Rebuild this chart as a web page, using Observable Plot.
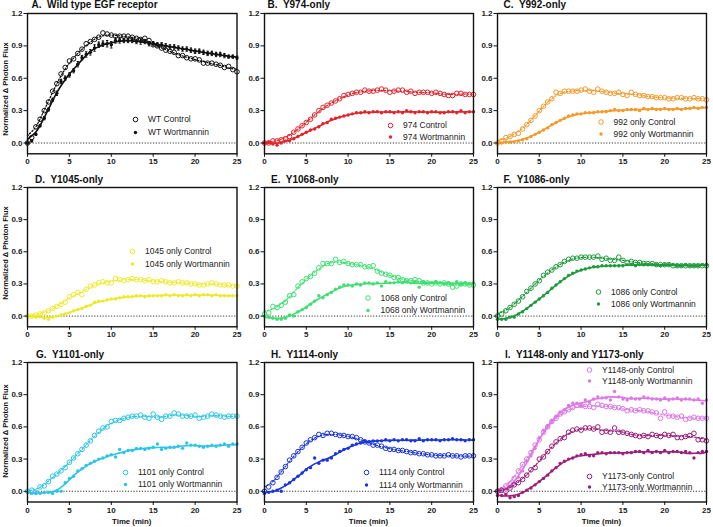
<!DOCTYPE html>
<html><head><meta charset="utf-8">
<script src="https://cdn.jsdelivr.net/npm/d3@7"></script>
<script src="https://cdn.jsdelivr.net/npm/@observablehq/plot@0.6"></script>
<style>
body{margin:0;background:#fff;}
#wrap{position:relative;width:713px;height:527px;overflow:hidden;font-family:Arial,"Liberation Sans",sans-serif;color:#111;}
#wrap svg{position:absolute;overflow:visible;}
.title{position:absolute;font-weight:bold;font-size:10px;white-space:pre;transform:translateY(-50%);line-height:1;}
.ylab{position:absolute;font-weight:bold;font-size:7.5px;white-space:nowrap;transform:translate(-50%,-50%) rotate(-90deg);line-height:1;}
.xlab{position:absolute;font-weight:bold;font-size:7.8px;white-space:nowrap;transform:translate(-50%,-50%);line-height:1;}
</style></head>
<body><div id="wrap"></div>
<script>
// ---- data ----
const T = [0,0.5,1,1.5,2,2.5,3,3.5,4,4.5,5,5.5,6,6.5,7,7.5,8,8.5,9,9.5,10,10.5,11,11.5,12,12.5,13,13.5,14,14.5,15,15.5,16,16.5,17,17.5,18,18.5,19,19.5,20,20.5,21,21.5,22,22.5,23,23.5,24,24.5,25];
const xTicks = [0,5,10,15,20,25];
const yTicks = [0,0.3,0.6,0.9,1.2];

const wtControl = [0.00,0.05,0.15,0.22,0.30,0.38,0.48,0.55,0.64,0.70,0.76,0.78,0.83,0.87,0.92,0.94,0.96,0.98,1.02,1.01,1.00,0.99,0.99,0.99,0.99,0.98,0.97,0.96,0.97,0.95,0.91,0.90,0.88,0.86,0.85,0.84,0.81,0.81,0.79,0.78,0.78,0.77,0.74,0.74,0.74,0.73,0.72,0.70,0.71,0.68,0.66];
const wtWortmannin = [0.00,0.02,0.08,0.16,0.23,0.31,0.40,0.46,0.57,0.60,0.63,0.67,0.73,0.79,0.82,0.84,0.88,0.91,0.92,0.92,0.91,0.95,0.95,0.95,0.95,0.95,0.94,0.94,0.94,0.92,0.92,0.91,0.91,0.90,0.89,0.89,0.88,0.87,0.87,0.86,0.85,0.85,0.84,0.83,0.83,0.82,0.82,0.81,0.80,0.80,0.79];
const wtWortmanninErr = [0,0.01,0.01,0.01,0.015,0.015,0.015,0.02,0.02,0.02,0.02,0.02,0.025,0.02,0.025,0.025,0.03,0.025,0.025,0.03,0.03,0.025,0.025,0.02,0.02,0.02,0.02,0.025,0.02,0.02,0.02,0.02,0.02,0.02,0.02,0.02,0.02,0.02,0.02,0.02,0.02,0.02,0.02,0.02,0.02,0.02,0.02,0.02,0.015,0.015,0.015];

const y974Control = [0.00,0.00,0.02,0.02,0.03,0.04,0.06,0.10,0.13,0.16,0.19,0.22,0.26,0.30,0.33,0.35,0.37,0.39,0.41,0.44,0.45,0.46,0.47,0.47,0.49,0.48,0.48,0.49,0.50,0.49,0.47,0.48,0.49,0.49,0.47,0.48,0.46,0.47,0.47,0.47,0.46,0.47,0.46,0.45,0.44,0.44,0.46,0.46,0.45,0.45,0.45];
const y974Wortmannin = [0.00,0.01,-0.01,-0.02,0.00,0.02,0.02,0.04,0.06,0.08,0.10,0.12,0.13,0.15,0.18,0.19,0.22,0.23,0.24,0.25,0.26,0.27,0.28,0.28,0.29,0.28,0.29,0.29,0.28,0.29,0.29,0.28,0.29,0.28,0.30,0.29,0.28,0.29,0.29,0.28,0.29,0.29,0.28,0.28,0.29,0.29,0.28,0.30,0.28,0.29,0.29];

const y992Control = [0.00,0.02,0.05,0.06,0.08,0.09,0.13,0.17,0.21,0.25,0.30,0.34,0.38,0.41,0.47,0.46,0.48,0.48,0.48,0.48,0.49,0.50,0.48,0.47,0.50,0.48,0.47,0.46,0.46,0.47,0.45,0.44,0.47,0.45,0.44,0.44,0.43,0.43,0.42,0.42,0.42,0.41,0.41,0.42,0.42,0.41,0.41,0.42,0.41,0.41,0.40];
const y992Wortmannin = [0.00,0.00,0.01,0.01,0.01,0.02,0.03,0.04,0.06,0.08,0.10,0.12,0.14,0.17,0.19,0.21,0.23,0.25,0.26,0.27,0.27,0.28,0.28,0.28,0.29,0.29,0.29,0.30,0.31,0.30,0.30,0.31,0.31,0.31,0.30,0.32,0.31,0.32,0.31,0.31,0.32,0.31,0.31,0.32,0.31,0.32,0.32,0.33,0.32,0.33,0.33];

const y1045Control = [0.00,0.00,0.01,0.02,0.03,0.05,0.07,0.09,0.11,0.13,0.18,0.20,0.22,0.20,0.25,0.28,0.29,0.31,0.32,0.31,0.31,0.35,0.34,0.33,0.34,0.35,0.34,0.34,0.33,0.34,0.32,0.32,0.33,0.32,0.31,0.31,0.32,0.31,0.31,0.30,0.30,0.29,0.29,0.30,0.31,0.30,0.29,0.29,0.29,0.28,0.28];
const y1045Wortmannin = [0.00,0.00,-0.01,0.00,-0.02,-0.03,-0.01,0.00,0.01,0.02,0.03,0.05,0.06,0.07,0.09,0.10,0.13,0.14,0.14,0.15,0.16,0.16,0.17,0.18,0.18,0.18,0.19,0.19,0.18,0.19,0.19,0.19,0.19,0.20,0.19,0.20,0.19,0.19,0.20,0.19,0.20,0.19,0.20,0.20,0.19,0.20,0.19,0.19,0.19,0.19,0.19];

const y1068Control = [0.02,0.03,0.09,0.08,0.10,0.13,0.19,0.20,0.28,0.32,0.35,0.37,0.40,0.45,0.49,0.49,0.49,0.53,0.50,0.51,0.49,0.48,0.48,0.48,0.46,0.46,0.47,0.42,0.40,0.39,0.38,0.36,0.36,0.34,0.33,0.33,0.34,0.33,0.31,0.31,0.30,0.31,0.30,0.31,0.30,0.27,0.28,0.30,0.30,0.29,0.29];
const y1068Wortmannin = [0.00,-0.01,-0.02,-0.03,-0.03,-0.02,0.01,0.00,0.04,0.06,0.08,0.11,0.14,0.19,0.17,0.20,0.22,0.25,0.27,0.29,0.29,0.28,0.30,0.29,0.31,0.31,0.30,0.31,0.28,0.32,0.31,0.31,0.32,0.31,0.32,0.31,0.32,0.27,0.32,0.31,0.31,0.32,0.31,0.30,0.31,0.30,0.32,0.30,0.31,0.30,0.31];

const y1086Control = [0.00,0.02,0.05,0.08,0.11,0.14,0.18,0.23,0.26,0.30,0.33,0.38,0.41,0.43,0.46,0.48,0.51,0.53,0.54,0.54,0.55,0.55,0.55,0.55,0.56,0.53,0.54,0.52,0.52,0.55,0.52,0.50,0.51,0.50,0.50,0.49,0.49,0.49,0.48,0.48,0.48,0.48,0.47,0.47,0.47,0.47,0.47,0.47,0.47,0.47,0.47];
const y1086Wortmannin = [-0.03,-0.03,-0.03,-0.01,-0.01,0.02,0.04,0.07,0.10,0.13,0.16,0.19,0.22,0.26,0.29,0.32,0.35,0.38,0.40,0.42,0.43,0.44,0.45,0.46,0.46,0.47,0.47,0.47,0.47,0.47,0.47,0.48,0.48,0.47,0.48,0.48,0.48,0.48,0.48,0.47,0.48,0.48,0.48,0.47,0.47,0.48,0.47,0.47,0.47,0.48,0.48];

const y1101Control = [0.00,0.01,-0.01,0.04,0.05,0.09,0.14,0.16,0.19,0.22,0.27,0.31,0.35,0.39,0.43,0.47,0.52,0.56,0.59,0.60,0.65,0.66,0.66,0.68,0.69,0.70,0.70,0.71,0.69,0.68,0.72,0.69,0.67,0.70,0.70,0.73,0.72,0.70,0.70,0.70,0.71,0.68,0.69,0.70,0.72,0.71,0.70,0.69,0.70,0.70,0.70];
const y1101Wortmannin = [-0.01,-0.02,-0.02,-0.02,-0.01,-0.01,-0.02,0.00,0.00,0.08,0.12,0.14,0.19,0.21,0.24,0.26,0.28,0.30,0.31,0.33,0.34,0.32,0.39,0.36,0.38,0.38,0.40,0.40,0.39,0.40,0.41,0.44,0.39,0.40,0.41,0.41,0.42,0.40,0.45,0.43,0.43,0.42,0.41,0.42,0.43,0.42,0.43,0.44,0.42,0.44,0.44];

const y1114Control = [0.00,0.04,0.08,0.13,0.18,0.23,0.29,0.33,0.37,0.41,0.45,0.48,0.50,0.53,0.52,0.54,0.54,0.53,0.52,0.52,0.51,0.51,0.50,0.48,0.46,0.45,0.43,0.43,0.42,0.40,0.39,0.39,0.38,0.38,0.37,0.36,0.36,0.35,0.35,0.34,0.34,0.33,0.33,0.33,0.34,0.33,0.33,0.32,0.33,0.33,0.33];
const y1114Wortmannin = [-0.02,-0.01,0.00,0.01,0.00,0.06,0.08,0.11,0.14,0.17,0.20,0.22,0.31,0.26,0.29,0.29,0.31,0.35,0.37,0.39,0.40,0.43,0.44,0.45,0.47,0.46,0.47,0.47,0.47,0.48,0.47,0.48,0.47,0.48,0.48,0.47,0.47,0.49,0.47,0.48,0.48,0.48,0.47,0.48,0.48,0.49,0.48,0.48,0.47,0.48,0.48];

const y1148Control = [0.00,0.01,0.05,0.07,0.12,0.19,0.25,0.30,0.36,0.43,0.48,0.55,0.60,0.65,0.68,0.72,0.74,0.76,0.78,0.80,0.80,0.79,0.79,0.78,0.81,0.80,0.79,0.79,0.78,0.78,0.77,0.75,0.76,0.75,0.76,0.75,0.75,0.74,0.73,0.68,0.74,0.70,0.70,0.69,0.70,0.67,0.68,0.69,0.68,0.68,0.68];
const y1148Wortmannin = [0.00,0.00,0.02,0.04,0.08,0.13,0.19,0.28,0.33,0.40,0.50,0.57,0.61,0.66,0.70,0.74,0.76,0.80,0.82,0.82,0.80,0.85,0.83,0.86,0.88,0.87,0.87,0.85,0.93,0.88,0.86,0.85,0.87,0.86,0.86,0.88,0.87,0.86,0.86,0.85,0.87,0.85,0.86,0.87,0.85,0.86,0.86,0.85,0.86,0.82,0.85];
const y1173Control = [0.00,0.01,0.00,0.03,0.06,0.08,0.11,0.15,0.20,0.22,0.30,0.32,0.37,0.42,0.46,0.49,0.50,0.55,0.57,0.58,0.57,0.59,0.59,0.58,0.60,0.55,0.56,0.55,0.59,0.55,0.55,0.54,0.53,0.52,0.51,0.52,0.51,0.53,0.52,0.51,0.53,0.52,0.53,0.50,0.50,0.51,0.52,0.54,0.48,0.48,0.47];
const y1173Wortmannin = [-0.04,-0.04,-0.03,-0.06,-0.05,-0.04,-0.01,0.01,0.03,0.06,0.09,0.12,0.15,0.19,0.22,0.26,0.28,0.30,0.31,0.33,0.34,0.35,0.33,0.33,0.36,0.36,0.35,0.36,0.36,0.36,0.35,0.36,0.36,0.37,0.37,0.36,0.38,0.36,0.37,0.36,0.38,0.36,0.37,0.37,0.36,0.37,0.36,0.31,0.36,0.37,0.37];

// ---- styles / layout ----
const colors = {A:"#111111", B:"#e3242b", C:"#f39a2b", D:"#efe92e", E:"#3ee070", F:"#1f9a3d", G:"#2cc5e8", H:"#1a35d8", I1:"#dc78e6", I2:"#9c1f7a"};
const layout = {
  cols: [{pl:27, pr:236.5},{pl:264, pr:473},{pl:497, pr:706}],
  rows: [{pt:13, pb:153.3, ty:5},{pt:187, pb:326.3, ty:180},{pt:361.5, pb:501, ty:355}]
};

const panels = [
 {title:"A.  Wild type EGF receptor", col:0,row:0, tx:31.5, series:[
   {label:"WT Control", y:wtControl, color:colors.A, kind:"control", lx:108, ly:106},
   {label:"WT Wortmannin", y:wtWortmannin, err:wtWortmanninErr, color:colors.A, kind:"wort", lx:108, ly:119}]},
 {title:"B.  Y974-only", col:1,row:0, tx:267.5, series:[
   {label:"974 Control", y:y974Control, color:colors.B, kind:"control", lx:126, ly:112},
   {label:"974 Wortmannin", y:y974Wortmannin, color:colors.B, kind:"wort", lx:126, ly:123.5}]},
 {title:"C.  Y992-only", col:2,row:0, tx:503.5, series:[
   {label:"992 only Control", y:y992Control, color:colors.C, kind:"control", lx:103.5, ly:108.5},
   {label:"992 only Wortmannin", y:y992Wortmannin, color:colors.C, kind:"wort", lx:103.5, ly:120.5}]},
 {title:"D.  Y1045-only", col:0,row:1, tx:35, series:[
   {label:"1045 only Control", y:y1045Control, color:colors.D, kind:"control", lx:105, ly:64},
   {label:"1045 only Wortmannin", y:y1045Wortmannin, color:colors.D, kind:"wort", lx:105, ly:76.5}]},
 {title:"E.  Y1068-only", col:1,row:1, tx:271, series:[
   {label:"1068 only Control", y:y1068Control, color:colors.E, kind:"control", lx:103.5, ly:110.5},
   {label:"1068 only Wortmannin", y:y1068Wortmannin, color:colors.E, kind:"wort", lx:103.5, ly:123}]},
 {title:"F.  Y1086-only", col:2,row:1, tx:503.5, series:[
   {label:"1086 only Control", y:y1086Control, color:colors.F, kind:"control", lx:101, ly:104.5},
   {label:"1086 only Wortmannin", y:y1086Wortmannin, color:colors.F, kind:"wort", lx:101, ly:116.5}]},
 {title:"G.  Y1101-only", col:0,row:2, tx:36, series:[
   {label:"1101 only Control", y:y1101Control, color:colors.G, kind:"control", lx:98, ly:110},
   {label:"1101 only Wortmannin", y:y1101Wortmannin, color:colors.G, kind:"wort", lx:98, ly:122}]},
 {title:"H.  Y1114-only", col:1,row:2, tx:271, series:[
   {label:"1114 only Control", y:y1114Control, color:colors.H, kind:"control", lx:102, ly:110},
   {label:"1114 only Wortmannin", y:y1114Wortmannin, color:colors.H, kind:"wort", lx:102, ly:122.5}]},
 {title:"I.  Y1148-only and Y1173-only", col:2,row:2, tx:505, series:[
   {label:"Y1148-only Control", y:y1148Control, color:colors.I1, kind:"control", lx:92, ly:7.5},
   {label:"Y1148-only Wortmannin", y:y1148Wortmannin, color:colors.I1, kind:"wort", lx:92, ly:18.5},
   {label:"Y1173-only Control", y:y1173Control, color:colors.I2, kind:"control", lx:92, ly:114},
   {label:"Y1173-only Wortmannin", y:y1173Wortmannin, color:colors.I2, kind:"wort", lx:92, ly:124.5}]}
];

const wrap = document.getElementById("wrap");
const mL = 26, mR = 6, mT = 6, mB = 16;

for (const p of panels) {
  const c = layout.cols[p.col], r = layout.rows[p.row];
  const w = c.pr - c.pl, h = r.pb - r.pt;
  const marks = [
    Plot.ruleY([0], {stroke:"#222", strokeWidth:0.9, strokeDasharray:"1.2,1.6"})
  ];
  for (const s of p.series) {
    const data = T.map((t, i) => ({t, v: s.y[i], e: s.err ? s.err[i] : 0}));
    const lineOpts = {x:"t", y:"v", stroke:s.color, curve:"basis"};
    if (s.kind === "wort") { lineOpts.strokeWidth = 1.6; }
    else { lineOpts.strokeWidth = 1.3; lineOpts.strokeDasharray = "1.3,1.9"; }
    marks.push(Plot.lineY(data, Plot.windowY({k:5, anchor:"middle", reduce:"mean", strict:false}, lineOpts)));
    if (s.err) {
      marks.push(Plot.ruleX(data, {x:"t", y1:d=>d.v-d.e, y2:d=>d.v+d.e, stroke:s.color, strokeWidth:1.1}));
      marks.push(Plot.link(data, {x1:d=>d.t-0.14, x2:d=>d.t+0.14, y1:d=>d.v+d.e, y2:d=>d.v+d.e, stroke:s.color, strokeWidth:1}));
      marks.push(Plot.link(data, {x1:d=>d.t-0.14, x2:d=>d.t+0.14, y1:d=>d.v-d.e, y2:d=>d.v-d.e, stroke:s.color, strokeWidth:1}));
    }
    if (s.kind === "control") {
      marks.push(Plot.dot(data, {x:"t", y:"v", r:2.3, stroke:s.color, strokeWidth:1, fill:"none"}));
      marks.push(Plot.dot([0], {frameAnchor:"top-left", dx:s.lx, dy:s.ly, r:2.3, stroke:s.color, strokeWidth:1, fill:"none"}));
    } else {
      marks.push(Plot.dot(data, {x:"t", y:"v", r:1.7, fill:s.color, stroke:null}));
      marks.push(Plot.dot([0], {frameAnchor:"top-left", dx:s.lx, dy:s.ly, r:1.7, fill:s.color, stroke:null}));
    }
    marks.push(Plot.text([s.label], {frameAnchor:"top-left", dx:s.lx + 12.5, dy:s.ly, textAnchor:"start", lineAnchor:"middle", fontSize:8.5, fontWeight:"normal", fill:"#222"}));
  }
  marks.push(Plot.axisX({ticks:xTicks, tickSize:3.5, tickPadding:1.5, label:null, tickFormat:d=>String(d), fill:"#222", fontSize:8}));
  marks.push(Plot.axisY({ticks:yTicks, tickSize:3.5, tickPadding:1.5, label:null, tickFormat:d3.format(".1f"), fill:"#222", fontSize:8}));
  marks.push(Plot.frame({stroke:"#111", strokeWidth:1.4}));

  const svg = Plot.plot({
    width: w + mL + mR,
    height: h + mT + mB,
    marginLeft: mL, marginRight: mR, marginTop: mT, marginBottom: mB,
    x: {domain:[0,25]},
    y: {domain:[-0.1,1.2]},
    style: {fontFamily:"Arial, 'Liberation Sans', sans-serif", fontSize:"8px", fontWeight:"bold", background:"transparent", overflow:"visible"},
    marks
  });
  svg.style.left = (c.pl - mL) + "px";
  svg.style.top = (r.pt - mT) + "px";
  wrap.appendChild(svg);

  const t = document.createElement("div");
  t.className = "title";
  t.textContent = p.title;
  t.style.left = p.tx + "px";
  t.style.top = r.ty + "px";
  wrap.appendChild(t);

  if (p.col === 0) {
    const yl = document.createElement("div");
    yl.className = "ylab";
    yl.textContent = "Normalized \u0394 Photon Flux";
    yl.style.left = "6px";
    yl.style.top = ([89, 253, 431][p.row]) + "px";
    wrap.appendChild(yl);
  }
  if (p.row === 2) {
    const xl = document.createElement("div");
    xl.className = "xlab";
    xl.textContent = "Time (min)";
    xl.style.left = ((c.pl + c.pr) / 2) + "px";
    xl.style.top = "521.5px";
    wrap.appendChild(xl);
  }
}
</script>
</body></html>
